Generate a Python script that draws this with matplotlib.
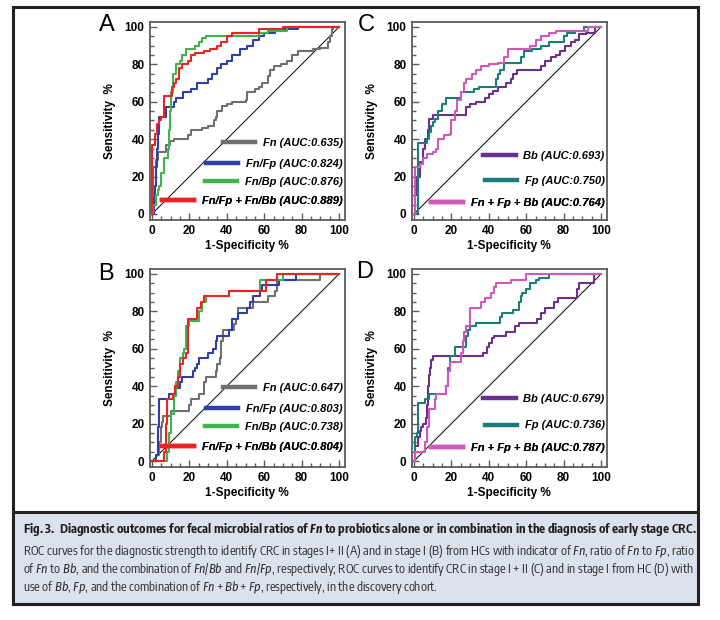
import matplotlib
matplotlib.use("Agg")
import matplotlib.pyplot as plt
from collections import defaultdict
from matplotlib import font_manager
from matplotlib.patches import Rectangle
from matplotlib.ticker import MultipleLocator

W, H = 720, 620

# ---------------- ROC data (1-Specificity %, Sensitivity %), step corners ----------------
# Panel A: stages I + II
A_FN_X = [0, 0.5, 2, 3, 7.5, 9.5, 12, 19, 21, 27, 30, 33, 34, 35, 37.5, 40, 43, 50, 51, 55, 57, 59, 62, 63, 65, 69, 72, 75, 78, 86, 90, 94, 95, 96, 97, 100]
A_FN_Y = [0, 25, 29, 33, 37, 39, 40, 42, 45, 46, 47, 50, 52, 55, 58, 59, 60, 61, 65, 67, 68, 70, 74, 77, 79, 80, 82, 85, 87, 88, 89, 92, 95, 99, 100, 100]
A_FNFP_X = [0, 1, 1.5, 2, 2.5, 3, 4, 7.5, 11.5, 13, 16.5, 21, 24, 30, 32, 35, 37, 40, 43, 47, 51, 54, 57, 60, 66, 70, 78, 100]
A_FNFP_Y = [0, 8, 15, 25, 35, 43, 52, 57, 60, 62, 65, 67, 70, 72, 75, 78, 80, 82, 85, 88, 90, 93, 95, 97, 98, 99, 100, 100]
A_FNBP_X = [0, 0.5, 2, 3, 4, 5, 6.5, 8.3, 9, 9.5, 10, 11, 13, 15, 16, 18, 23, 25, 27, 29, 57, 62, 72, 100]
A_FNBP_Y = [0, 5, 10, 13, 15, 22, 30, 35, 45, 55, 65, 75, 80, 82, 85, 88, 90, 92, 94, 95, 97, 98, 100, 100]
A_COMB_X = [0, 0, 1.5, 2.5, 3.5, 5, 6.5, 10.5, 12, 13, 14.5, 16, 19.5, 21, 23, 28, 31, 35, 37, 40, 43, 55, 57, 70, 100]
A_COMB_Y = [0, 37, 43, 48, 50, 52, 63, 68, 70, 72, 78, 80, 82, 85, 86, 87, 88, 90, 92, 95, 97, 97, 99, 100, 100]

# Panel B: stage I
B_FN_X = [0, 2, 4, 5, 5.5, 6, 10, 20, 21, 25, 28, 29, 34, 35, 36.5, 37, 38, 44, 45, 46, 54, 62, 66, 67, 90, 100]
B_FN_Y = [0, 3, 10, 18, 21, 24, 27, 30, 33, 36, 42, 45, 48, 52, 55, 64, 70, 73, 76, 82, 85, 88, 91, 97, 100, 100]
B_FNFP_X = [0, 2, 3, 4, 9, 12.5, 15, 16, 22, 23, 24, 25, 30, 32.5, 34, 35, 41, 43, 46, 51, 52.5, 54, 58, 59, 68, 77, 100]
B_FNFP_Y = [0, 3, 18, 33, 36, 39, 42, 45, 48, 50, 52, 55, 58, 60, 64, 67, 70, 76, 79, 82, 85, 88, 91, 94, 97, 100, 100]
B_FNBP_X = [0, 8, 9, 10, 12, 13, 14, 15, 16.5, 17, 18, 20, 25, 27, 29, 41, 58, 70, 100]
B_FNBP_Y = [0, 5, 15, 25, 35, 42, 48, 55, 58, 60, 72, 75, 80, 85, 88, 91, 97, 100, 100]
B_COMB_X = [0, 6.5, 7.5, 8, 11, 12.5, 14, 15, 16.5, 18, 19, 24, 26, 28, 41, 61, 67, 100]
B_COMB_Y = [0, 5, 20, 33, 36, 40, 45, 52, 55, 58, 76, 82, 85, 88, 91, 97, 100, 100]

# Panel C: stages I + II
C_BB_X = [0, 0.5, 1.5, 3, 5, 6, 7.5, 8, 10, 28, 30, 33, 38, 40, 42, 45, 49, 52, 53, 55, 68, 70, 73, 76, 78, 81, 84, 86, 88, 92, 97, 100]
C_BB_Y = [0, 10, 20, 28, 35, 40, 45, 51, 53, 57, 59, 60, 62, 64, 66, 68, 70, 72, 75, 77, 79, 82, 84, 85, 87, 90, 92, 93, 96, 97, 100, 100]
C_FP_X = [0, 2, 7, 8, 9, 10, 11, 13, 15, 17, 25, 32, 35, 44, 45, 46, 48, 57, 59, 63, 68, 72, 80, 82, 86, 91, 100]
C_FP_Y = [0, 38, 40, 44, 47, 49, 51, 55, 59, 62, 65, 67, 68, 72, 75, 77, 81, 84, 87, 88, 90, 92, 95, 97, 98, 100, 100]
C_COMB_X = [0, 0.5, 3, 5, 7, 10, 12, 13, 16, 19, 20, 22, 23, 25, 27, 28, 31, 33, 36, 40, 45, 48, 50, 62, 65, 68, 72, 76, 93, 100]
C_COMB_Y = [0, 25, 27, 30, 32, 33, 35, 40, 42, 43, 50, 55, 61, 65, 70, 72, 75, 77, 79, 80, 81, 84, 88, 90, 93, 95, 97, 98, 100, 100]

# Panel D: stage I
D_BB_X = [0, 0.5, 2, 3, 4, 5, 6.5, 7, 7.5, 8, 8.5, 9, 10, 37, 39, 40, 41.5, 43, 49, 54, 56, 66, 68, 70, 75, 77, 87, 88, 96, 100]
D_BB_Y = [0, 8, 13, 16, 18, 20, 23, 30, 40, 46, 50, 54, 56, 58, 61, 63, 66, 67, 69, 72, 74, 76, 79, 82, 85, 87, 92, 95, 100, 100]
D_FP_X = [0, 0.3, 0.5, 1.5, 2, 6, 8, 17, 18, 19, 22, 28, 29, 30, 33, 46, 47, 53, 56, 57, 58, 60, 62, 65, 67, 72, 100]
D_FP_Y = [0, 8, 13, 15, 31, 33, 36, 40, 50, 56, 61, 67, 70, 72, 74, 77, 79, 81, 85, 88, 90, 92, 95, 97, 98, 100, 100]
D_COMB_X = [0, 0.5, 6, 7, 8, 11, 12, 17, 18, 19, 25, 26, 26.5, 28, 30, 36, 38, 41, 43, 44, 52, 60, 100]
D_COMB_Y = [0, 5, 10, 18, 28, 33, 36, 40, 48, 53, 58, 64, 69, 72, 82, 85, 87, 90, 93, 95, 97, 100, 100]

LABELS_AB = ["Fn", "Fn/Fp", "Fn/Bp", "Fn/Fp + Fn/Bb"]
LABELS_CD = ["Bb", "Fp", "Fn + Fp + Bb"]
AUC_A = [0.635, 0.824, 0.876, 0.889]
AUC_B = [0.647, 0.803, 0.738, 0.804]
AUC_C = [0.693, 0.750, 0.764]
AUC_D = [0.679, 0.736, 0.787]

COLORS_AB = ["#6f6f6f", "#2f3fa6", "#3db54a", "#ec2224"]
COLORS_CD = ["#6b2f8c", "#1b7d78", "#cf58b8"]

# ---------------- fonts: a condensed family for the caption, if one is there ----------------
styles = defaultdict(set)
for f in font_manager.fontManager.ttflist:
    w = f.weight if isinstance(f.weight, int) else font_manager.weight_dict.get(f.weight, 400)
    st = "italic" if f.style in ("italic", "oblique") else "normal"
    styles[f.name].add((st, w >= 600))

narrow = [n for n in styles if "Narrow" in n or "Condensed" in n]
narrow.sort(key=lambda n: (0 if "Sans" in n else 1, n))


def pick(need, fallback):
    for n in narrow:
        if need <= styles[n]:
            return n
    return fallback


NARROW = pick({("normal", False), ("normal", True)}, "Liberation Sans")
NARROW_IT = NARROW if ("italic", False) in styles[NARROW] else pick({("italic", False)}, "Liberation Sans")
NARROW_BI = NARROW if ("italic", True) in styles[NARROW] else pick({("italic", True)}, "Liberation Sans")

plt.rcParams["font.family"] = ["Liberation Sans", "DejaVu Sans"]
plt.rcParams["mathtext.fontset"] = "custom"
plt.rcParams["mathtext.rm"] = NARROW
plt.rcParams["mathtext.it"] = NARROW_IT + ":italic"
plt.rcParams["mathtext.bf"] = NARROW + ":bold"
plt.rcParams["mathtext.bfit"] = NARROW_BI + ":italic:bold"

XLIM = (-1, 103)
YLIM = (-3, 102.5)
SPINE = "#5c5c5c"

fig = plt.figure(figsize=(W / 100, H / 100), dpi=100)


def make_axes(x0, x100, y100, y0):
    sx = (x100 - x0) / 100
    sy = (y0 - y100) / 100
    left = x0 + XLIM[0] * sx
    right = x0 + XLIM[1] * sx
    top = y0 - YLIM[1] * sy
    bottom = y0 - YLIM[0] * sy
    ax = fig.add_axes([left / W, 1 - bottom / H, (right - left) / W, (bottom - top) / H])
    ax.set_xlim(*XLIM)
    ax.set_ylim(*YLIM)
    return ax


def panel(ax, xs, ys, names, aucs, colors, leg_y, letter, letter_xy):
    ax.plot([0, 100], [0, 100], color="black", lw=0.7, zorder=1)
    lines = []
    for x, y, c in zip(xs, ys, colors):
        ln, = ax.plot(x, y, drawstyle="steps-post", color=c, lw=1.5, zorder=2)
        lines.append(ln)
    for ln, name, auc, yy in zip(lines, names, aucs, leg_y):
        leg = ax.legend(handles=[ln], labels=[f"{name} (AUC:{auc:.3f})"],
                        loc="center right", bbox_to_anchor=(102, yy),
                        bbox_transform=ax.transData, frameon=False,
                        handlelength=2.9, handletextpad=0.7, borderpad=0,
                        borderaxespad=0,
                        prop=dict(weight="bold", style="italic", size=8))
        leg.legend_handles[0].set_linewidth(3.2)
        ax.add_artist(leg)

    for s in ax.spines.values():
        s.set_color(SPINE)
        s.set_linewidth(1.3)
    ax.xaxis.set_major_locator(MultipleLocator(20))
    ax.yaxis.set_major_locator(MultipleLocator(20))
    ax.xaxis.set_minor_locator(MultipleLocator(5))
    ax.yaxis.set_minor_locator(MultipleLocator(5))
    ax.tick_params(which="both", direction="in", color=SPINE, width=1.0)
    ax.tick_params(which="major", length=5, labelsize=8.5, pad=4)
    ax.tick_params(which="minor", length=3)
    for lab in ax.get_xticklabels() + ax.get_yticklabels():
        lab.set_fontweight("bold")
    ax.set_xlabel("1-Specificity %", fontsize=8.5, fontweight="bold", labelpad=2)
    ax.set_ylabel("Sensitivity  %", fontsize=8.5, fontweight="bold", labelpad=6)
    fig.text(letter_xy[0] / W, 1 - letter_xy[1] / H, letter, fontsize=17,
             ha="center", va="center")


axA = make_axes(152, 339, 27, 214)
axC = make_axes(414, 601, 27, 214)
axB = make_axes(152, 339, 274, 461)
axD = make_axes(414, 601, 274, 461)

panel(axA, [A_FN_X, A_FNFP_X, A_FNBP_X, A_COMB_X], [A_FN_Y, A_FNFP_Y, A_FNBP_Y, A_COMB_Y],
      LABELS_AB, AUC_A, COLORS_AB, [38, 27, 17, 7], "A", (107, 25))
panel(axB, [B_FN_X, B_FNFP_X, B_FNBP_X, B_COMB_X], [B_FN_Y, B_FNFP_Y, B_FNBP_Y, B_COMB_Y],
      LABELS_AB, AUC_B, COLORS_AB, [39, 28, 18, 7.5], "B", (106, 274))
panel(axC, [C_BB_X, C_FP_X, C_COMB_X], [C_BB_Y, C_FP_Y, C_COMB_Y],
      LABELS_CD, AUC_C, COLORS_CD, [31, 17.5, 6], "C", (366, 25))
panel(axD, [D_BB_X, D_FP_X, D_COMB_X], [D_BB_Y, D_FP_Y, D_COMB_Y],
      LABELS_CD, AUC_D, COLORS_CD, [33, 19, 7], "D", (365, 272))

# ---------------- frame and caption ----------------
fig.add_artist(Rectangle((13 / W, 1 - 604 / H), 685 / W, 597 / H, fill=False,
                         lw=2.2, ec="#222222", transform=fig.transFigure))
fig.add_artist(Rectangle((13 / W, 1 - 604 / H), 685 / W, 92 / H, fc="#dbe2ee",
                         lw=2.2, ec="#222222", transform=fig.transFigure))

TITLE = (r"Fig. 3.  Diagnostic outcomes for fecal microbial ratios of $\mathbfit{Fn}$ to "
         r"probiotics alone or in combination in the diagnosis of early stage CRC.")
BODY = [
    r"ROC curves for the diagnostic strength to identify CRC in stages I+ II (A) and in stage I (B) "
    r"from HCs with indicator of $\mathit{Fn}$, ratio of $\mathit{Fn}$ to $\mathit{Fp}$, ratio",
    r"of $\mathit{Fn}$ to $\mathit{Bb}$, and the combination of $\mathit{Fn/Bb}$ and $\mathit{Fn/Fp}$, "
    r"respectively; ROC curves to identify CRC in stage I + II (C) and in stage I from HC (D) with",
    r"use of $\mathit{Bb}$, $\mathit{Fp}$, and the combination of $\mathit{Fn+Bb+Fp}$, "
    r"respectively, in the discovery cohort.",
]

renderer = fig.canvas.get_renderer()


def fit_text(s, y, size, target, weight="normal", color="#2a2a2a"):
    t = fig.text(23 / W, 1 - y / H, s, fontsize=size, fontweight=weight,
                 family=NARROW, ha="left", va="center", color=color)
    if target:
        w = t.get_window_extent(renderer).width
        t.set_fontsize(size * target / w)
    return t


fit_text(TITLE, 530, 9, 675, weight="bold", color="#1e1e1e")
t1 = fit_text(BODY[0], 552, 8.5, 672)
fit_text(BODY[1], 569, 8.5, 672)
fit_text(BODY[2], 587, t1.get_fontsize(), None)

fig.savefig("out.png", dpi=100)
